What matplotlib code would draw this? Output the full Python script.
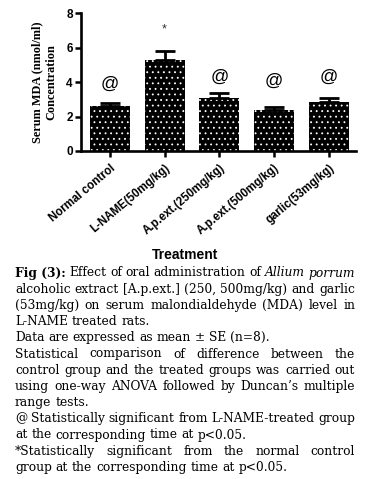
import matplotlib
matplotlib.use('Agg')
import matplotlib.pyplot as plt
import numpy as np

# data
groups = ['Normal control', 'L-NAME(50mg/kg)', 'A.p.ext.(250mg/kg)',
          'A.p.ext.(500mg/kg)', 'garlic(53mg/kg)']
means = [2.62, 5.28, 3.08, 2.40, 2.85]
errs = [0.19, 0.52, 0.31, 0.14, 0.25]
marks = ['@', '*', '@', '@', '@']
mark_y = [3.85, 7.05, 4.30, 4.05, 4.30]

caption = [
    [('Fig (3):', 'bold'), ('Effect', ''), ('of', ''), ('oral', ''), ('administration', ''),
     ('of', ''), ('Allium', 'italic'), ('porrum', 'italic')],
    'alcoholic extract [A.p.ext.] (250, 500mg/kg) and garlic',
    '(53mg/kg) on serum malondialdehyde (MDA) level in',
    'L-NAME treated rats.',
    'Data are expressed as mean \u00b1 SE (n=8).',
    'Statistical comparison of difference between the',
    'control group and the treated groups was carried out',
    'using one-way ANOVA followed by Duncan\u2019s multiple',
    'range tests.',
    '@ Statistically significant from L-NAME-treated group',
    'at the corresponding time at p<0.05.',
    '*Statistically significant from the normal control',
    'group at the corresponding time at p<0.05.',
]
justified = [True, True, True, False, False, True, True, True, False, True, False, True, False]

plt.rcParams['hatch.color'] = 'white'
plt.rcParams['hatch.linewidth'] = 0.6

W, H = 374, 479
fig = plt.figure(figsize=(W / 100, H / 100), dpi=100)
ax = fig.add_axes([81 / W, 1 - 151 / H, (356 - 81) / W, (151 - 13.3) / H])

x = np.arange(len(groups))
ax.bar(x, means, width=0.73, color='black', hatch='...')
ax.errorbar(x, means, yerr=[np.zeros(len(errs)), errs], fmt='none',
            ecolor='black', elinewidth=2, capsize=7.5, capthick=2)
for xi, m, my in zip(x, marks, mark_y):
    if m == '*':
        ax.text(xi, my, m, ha='center', va='center', fontsize=9, color='#333333',
                family='Liberation Sans')
    else:
        ax.text(xi, my, m, ha='center', va='center', fontsize=13,
                family='Liberation Sans')

ax.set_xlim(-0.53, 4.5)
ax.set_ylim(0, 8)
ax.set_yticks([0, 2, 4, 6, 8])
ax.set_xticks(x)
ax.set_xticklabels(groups, rotation=40, ha='right', rotation_mode='anchor',
                   fontsize=8.3, fontweight='bold', family='Liberation Sans')
for lab in ax.get_yticklabels():
    lab.set_fontweight('bold')
    lab.set_family('Liberation Sans')
    lab.set_fontsize(8.5)
ax.tick_params(axis='both', direction='out', width=1.8, length=4, pad=2)
ax.tick_params(axis='x', pad=4)
for s in ['top', 'right']:
    ax.spines[s].set_visible(False)
for s in ['left', 'bottom']:
    ax.spines[s].set_linewidth(1.9)
ax.set_ylabel('Serum MDA (nmol/ml)\nConcentration', family='Liberation Serif',
              fontweight='bold', fontsize=8.8, linespacing=1.25, labelpad=6)

fig.text(185 / W, 1 - 255 / H, 'Treatment', ha='center', va='center',
         fontsize=10, fontweight='bold', family='Liberation Sans')

# caption, justified like the journal layout
fig.canvas.draw()
r = fig.canvas.get_renderer()
x0, x1 = 15, 355
y_first, dy = 273, 16.2

# pick the font size so the second line fills the column
probe = fig.text(0, 0, caption[1], fontsize=10, family='DejaVu Serif')
fs = 10 * (x1 - x0) / probe.get_window_extent(r).width
probe.remove()

sp = fig.text(0, 0, 'a a', fontsize=fs, family='DejaVu Serif')
sp2 = fig.text(0, 0, 'aa', fontsize=fs, family='DejaVu Serif')
space_w = sp.get_window_extent(r).width - sp2.get_window_extent(r).width
sp.remove()
sp2.remove()

for i, line in enumerate(caption):
    yf = 1 - (y_first + i * dy) / H
    if isinstance(line, str):
        words = [(w, '') for w in line.split(' ')]
    else:
        words = line
    texts = []
    for w, st in words:
        t = fig.text(0, yf, w, va='center', ha='left', fontsize=fs,
                     family='DejaVu Serif',
                     fontweight='bold' if st == 'bold' else 'normal',
                     fontstyle='italic' if st == 'italic' else 'normal')
        texts.append(t)
    widths = [t.get_window_extent(r).width for t in texts]
    if justified[i] and len(texts) > 1:
        gap = (x1 - x0 - sum(widths)) / (len(texts) - 1)
    else:
        gap = space_w
    xp = x0
    for t, w in zip(texts, widths):
        t.set_x(xp / W)
        xp += w + gap

fig.savefig('out.png', dpi=100)
